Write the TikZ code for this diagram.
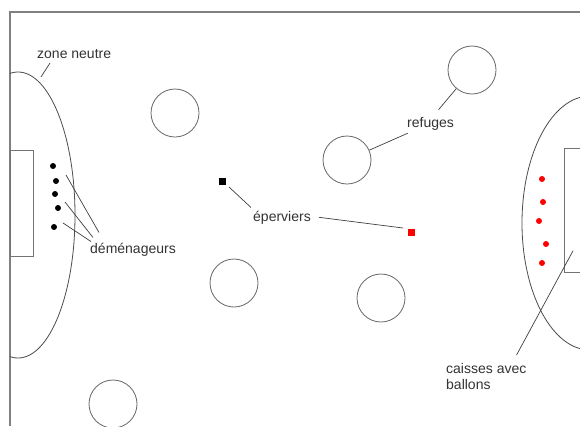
\documentclass[tikz,border=0pt]{standalone}
\usepackage{fontspec}
\setmainfont{Liberation Sans}
\begin{document}
\begin{tikzpicture}[x=1pt,y=-1pt]
    % Node styles
    \tikzset{
      refuge/.style={circle,draw=black!60,line width=0.8pt,minimum size=48pt,inner sep=0pt},
      demenageur/.style={circle,fill=black,inner sep=0pt,minimum size=6pt},
      ballon/.style={circle,fill=red,inner sep=0pt,minimum size=6pt},
      epervier/.style={rectangle,inner sep=0pt,minimum size=7pt},
      goal/.style={rectangle,draw=black!55,line width=0.8pt,inner sep=0pt,anchor=north west},
      legende/.style={inner sep=0pt,anchor=base west,font=\fontsize{14}{16}\selectfont,text=black!80},
      leader/.style={draw=black!75,line width=0.7pt}
    }
    
    % --- Page and field border ---
    \useasboundingbox[fill=white] (0,0) rectangle (580,426);
    \draw[black!50,line width=1.5pt] (580,12) -- (10,12) -- (10,426);
    
    % --- Neutral zones and goal boxes ---
    \begin{scope}
      \clip (10,12) rectangle (580,426);
      \draw[black!70,line width=0.8pt] (18,215) ellipse [x radius=57,y radius=143];
      \draw[black!70,line width=0.8pt] (590,223) ellipse [x radius=68,y radius=127];
      \node[goal,minimum width=23pt,minimum height=106pt] (lgoal) at (10,150) {};
      \node[goal,minimum width=30pt,minimum height=124pt] (rgoal) at (564,148) {};
    \end{scope}
    
    % --- Refuges ---
    \node[refuge] (r1) at (175,113) {};
    \node[refuge] (r2) at (472,70) {};
    \node[refuge] (r3) at (347,160) {};
    \node[refuge] (r4) at (234,283) {};
    \node[refuge] (r5) at (381,298) {};
    \node[refuge] (r6) at (113,404) {};
    
    % --- Movers (left) ---
    \node[demenageur] (d1) at (53,166) {};
    \node[demenageur] (d2) at (56,181) {};
    \node[demenageur] (d3) at (55,194) {};
    \node[demenageur] (d4) at (58,208) {};
    \node[demenageur] (d5) at (54,227) {};
    
    % --- Balls (right) ---
    \node[ballon] (b1) at (542,179) {};
    \node[ballon] (b2) at (543,202) {};
    \node[ballon] (b3) at (539,221) {};
    \node[ballon] (b4) at (546,244) {};
    \node[ballon] (b5) at (542,263) {};
    
    % --- Hawks ---
    \node[epervier,fill=black] (e1) at (222,181) {};
    \node[epervier,fill=red] (e2) at (411,232) {};
    
    % --- Labels ---
    \node[legende] (zn) at (37,58) {zone neutre};
    \node[legende] (dem) at (90,253) {déménageurs};
    \node[legende] (epv) at (253,221) {éperviers};
    \node[legende] (ref) at (407,127) {refuges};
    \node[legende,anchor=north west,align=left] (cab) at (446,363) {caisses avec\\ballons};
    \coordinate (zntip) at (41,77);
    
    % Leader lines
    \draw[leader] ([xshift=13pt,yshift=-5pt]zn.base west) -- (zntip);
    \draw[leader] ([xshift=10pt,yshift=6pt]d2.center) -- ([xshift=9pt,yshift=10pt]dem.north west);
    \draw[leader] ([xshift=7pt,yshift=6pt]d4.center) -- ([xshift=3pt,yshift=5pt]dem.north west);
    \draw[leader] ([xshift=9pt,yshift=4pt]d5.center) -- ([xshift=1pt,yshift=1pt]dem.north west);
    \draw[leader] ([xshift=7pt,yshift=-6pt]e1.center) -- ([xshift=-2pt,yshift=3pt]epv.north west);
    \draw[leader] ([xshift=8pt]epv.east) -- ([xshift=-8pt,yshift=4pt]e2.center);
    \draw[leader] ([xshift=8pt,yshift=7pt]ref.north) -- (r2);
    \draw[leader] ([xshift=1pt,yshift=-3pt]ref.south west) -- (r3);
    \draw[leader] ([xshift=-10pt,yshift=8pt]cab.north east) -- ([xshift=9pt,yshift=22pt]rgoal.south west);
    
  \end{tikzpicture}
\end{document}
